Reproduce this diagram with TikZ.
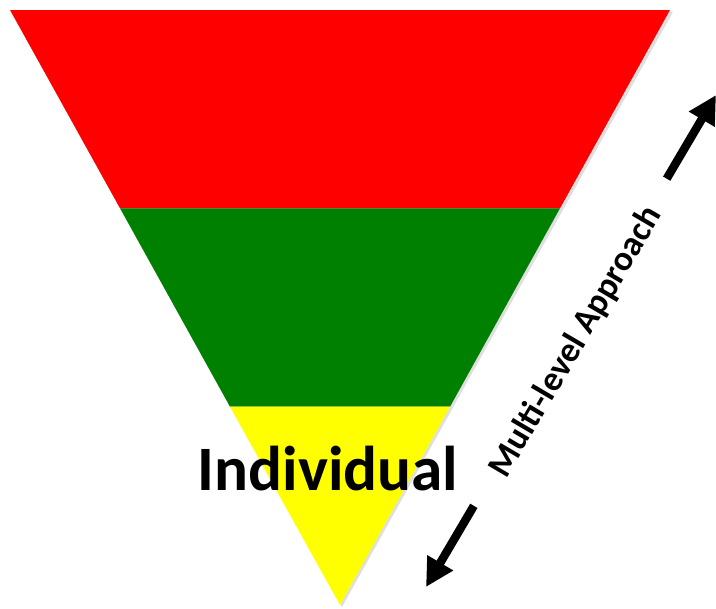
\documentclass[tikz,border=0pt]{standalone}
\usepackage{fontspec}
\setmainfont{Carlito}
\usetikzlibrary{arrows.meta,calc}
\definecolor{LevelRed}{HTML}{FF0000}
\definecolor{LevelGreen}{HTML}{008000}
\definecolor{LevelYellow}{HTML}{FFFF00}

\begin{document}
\begin{tikzpicture}[x=0.025cm,y=-0.025cm,
  band/.style={draw=none},
  shade/.style={fill=black!25,opacity=0.5},
  arrow/.style={-{Triangle[length=20pt,width=20pt]},line width=6pt,black},
  bigtext/.style={font=\fontsize{45}{47}\selectfont\bfseries,inner sep=0pt},
  sidetext/.style={font=\fontsize{25}{27}\selectfont\bfseries,inner sep=0pt,rotate=59.5}]
  \useasboundingbox (0,0) rectangle (716,608);
  % soft shadow behind the funnel
  \fill[shade] (13,12) -- (673,12) -- (342,607) -- cycle;
  % three levels
  \fill[band,LevelRed] (10,10) -- (670,10) -- (560,208.3) -- (120,208.3) -- cycle;
  \fill[band,LevelGreen] (120,208.3) -- (560,208.3) -- (450,406.7) -- (230,406.7) -- cycle;
  \fill[band,LevelYellow] (230,406.7) -- (450,406.7) -- (340,605) -- cycle;
  \node[bigtext,anchor=base] (indiv) at (328,490) {Individual};
  % side arrow
  \coordinate (lo) at (426,587);
  \coordinate (hi) at (716,95);
  \node[sidetext] (mla) at ($(lo)!0.5!(hi)+(5,1)$) {Multi-level Approach};
  \coordinate (lostart) at ($(lo)!0.165!(hi)$);
  \coordinate (histart) at ($(lo)!0.83!(hi)$);
  \draw[arrow] (lostart) -- (lo);
  \draw[arrow] (histart) -- (hi);
\end{tikzpicture}
\end{document}
